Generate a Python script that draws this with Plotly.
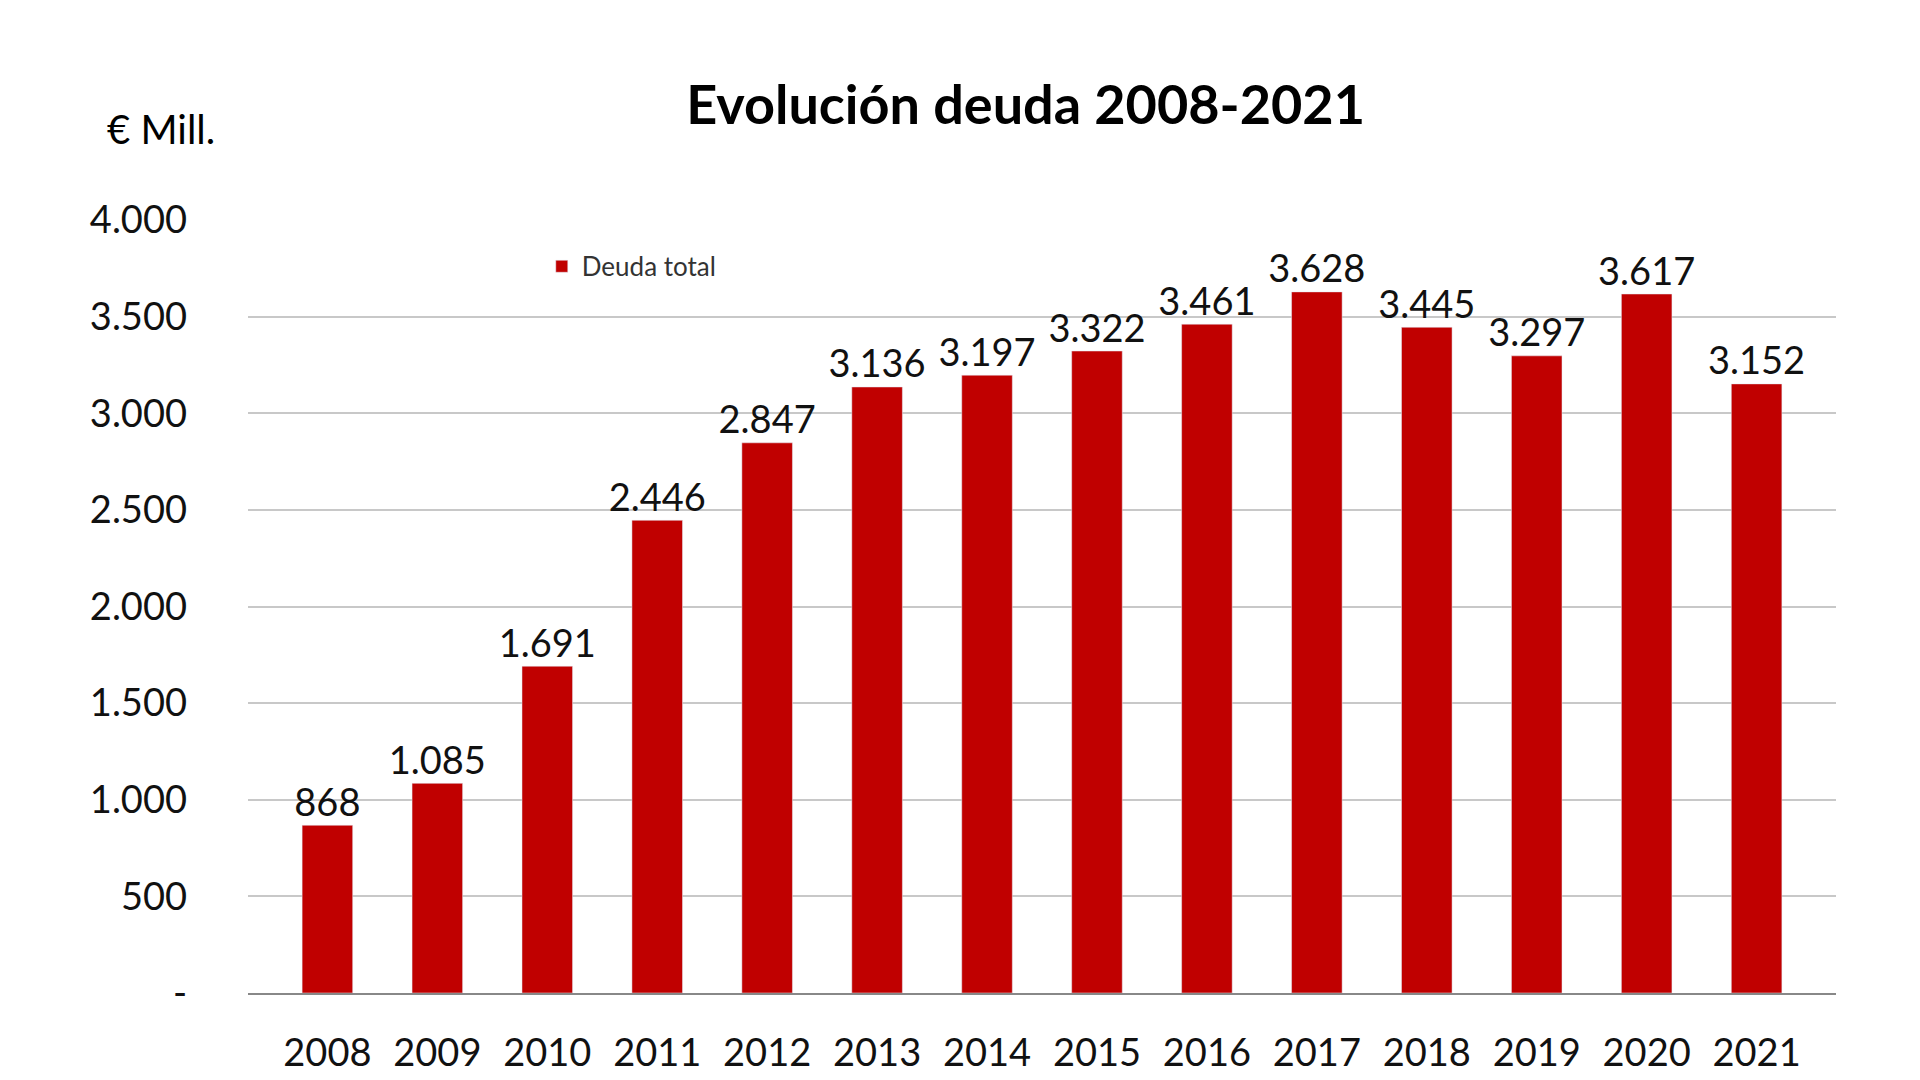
import plotly.graph_objects as go

years = ['2008', '2009', '2010', '2011', '2012', '2013', '2014',
         '2015', '2016', '2017', '2018', '2019', '2020', '2021']
deuda = [868, 1085, 1691, 2446, 2847, 3136, 3197, 3322, 3461, 3628, 3445, 3297, 3617, 3152]
labels = [f"{v:,}".replace(',', '.') for v in deuda]

tick_vals = [0, 500, 1000, 1500, 2000, 2500, 3000, 3500, 4000]
tick_text = ['-', '500', '1.000', '1.500', '2.000', '2.500', '3.000', '3.500', '4.000']

font = 'Lato'

fig = go.Figure()
fig.add_trace(go.Bar(
    x=years, y=deuda, name='Deuda total',
    marker=dict(color='#C00000'),
))
# data labels as a text layer so they keep full size
fig.add_trace(go.Scatter(
    x=years, y=deuda, mode='text', text=labels, textposition='top center',
    showlegend=False, cliponaxis=False, hoverinfo='skip',
    textfont=dict(size=38, color='#111111', family=font),
))

fig.update_layout(
    width=1920, height=1080,
    plot_bgcolor='white', paper_bgcolor='white',
    font=dict(family=font, color='#111111'),
    margin=dict(l=240, r=92, t=212, b=95),
    bargap=0.54,
    title=dict(text='<b>Evolución deuda 2008-2021</b>', x=0.53, xanchor='center',
               y=0.91, yanchor='middle', font=dict(size=54, family=font, color='black')),
    showlegend=True,
    legend=dict(x=0.185, y=0.94, xanchor='left', yanchor='middle',
                font=dict(size=26, family=font, color='#333333'),
                bgcolor='rgba(0,0,0,0)'),
    annotations=[dict(text='€ Mill.', x=-0.09, y=1.118, xref='paper', yref='paper',
                      xanchor='left', yanchor='middle', showarrow=False,
                      font=dict(size=40, family=font, color='black'))],
)
fig.update_yaxes(range=[0, 4000], tickvals=tick_vals, ticktext=tick_text,
                 showgrid=True, gridcolor='#c8c8c8', gridwidth=2,
                 tickfont=dict(size=38, family=font, color='#111111'),
                 ticks='', ticklabelstandoff=60, zeroline=False)
fig.update_xaxes(showline=True, linecolor='#888888', linewidth=2,
                 tickfont=dict(size=38, family=font, color='#111111'),
                 ticklabelstandoff=25)

fig.write_html("out.html")
